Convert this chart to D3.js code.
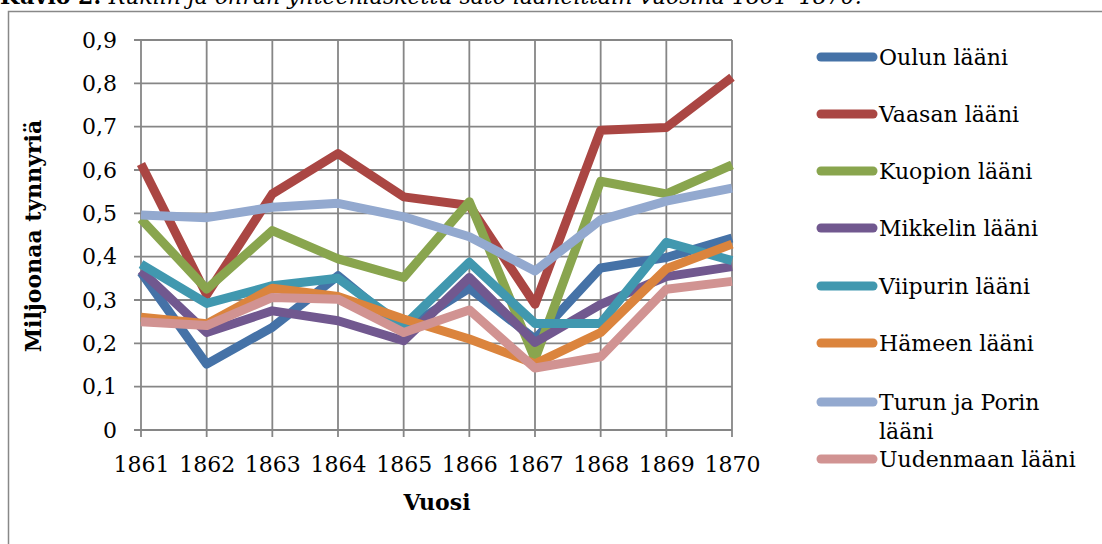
<!DOCTYPE html>
<html><head><meta charset="utf-8">
<script src="https://cdn.jsdelivr.net/npm/d3@7"></script>
<style>
html,body{margin:0;padding:0;background:#fff;}
svg{display:block;}
text{font-family:"DejaVu Serif",serif;fill:#000;}
</style></head>
<body>
<svg id="c" width="1102" height="544"></svg>
<script>
const years = ["1861","1862","1863","1864","1865","1866","1867","1868","1869","1870"];
const seriesNames = ["Oulun lääni","Vaasan lääni","Kuopion lääni","Mikkelin lääni","Viipurin lääni","Hämeen lääni","Turun ja Porin lääni","Uudenmaan lääni"];
const oulun     = [0.364,0.152,0.237,0.356,0.232,0.327,0.210,0.374,0.398,0.443];
const vaasan    = [0.614,0.312,0.545,0.638,0.538,0.518,0.290,0.692,0.698,0.814];
const kuopion   = [0.487,0.325,0.460,0.395,0.352,0.527,0.164,0.574,0.545,0.612];
const mikkelin  = [0.368,0.225,0.275,0.252,0.206,0.352,0.202,0.290,0.354,0.377];
const viipurin  = [0.383,0.292,0.333,0.350,0.240,0.387,0.246,0.246,0.433,0.391];
const hameen    = [0.260,0.245,0.327,0.308,0.256,0.210,0.153,0.225,0.372,0.429];
const turun     = [0.496,0.490,0.514,0.523,0.492,0.446,0.367,0.485,0.528,0.558];
const uudenmaan = [0.250,0.241,0.306,0.302,0.225,0.277,0.143,0.169,0.325,0.343];
const yTicks = [0,0.1,0.2,0.3,0.4,0.5,0.6,0.7,0.8,0.9];
const colors = ["#4572A7","#AA4643","#89A54E","#71588F","#4198AF","#DB843D","#93A9CF","#D19392"];
const seriesValues = [oulun,vaasan,kuopion,mikkelin,viipurin,hameen,turun,uudenmaan];

const svg = d3.select("#c");
const x = d3.scalePoint().domain(years).range([141,732]);
const y = d3.scaleLinear().domain([0,0.9]).range([430,40]);
const fmt = d => d3.format(".1f")(d).replace(".", ",");

// title (cropped at top, as in the reference)
const title = svg.append("text").attr("x",0).attr("y",4).style("font-size","22px");
title.append("tspan").attr("font-weight","bold").text("Kuvio 2. ");
title.append("tspan").attr("font-style","italic").text("Rukiin ja ohran yhteenlaskettu sato lääneittäin vuosina 1861–1870.");

// chart border
svg.append("path").attr("d","M8.5,544 V11.5 H1102").attr("fill","none").attr("stroke","#888").attr("stroke-width",1.5);

// gridlines
const grid = svg.append("g").attr("stroke","#868686").attr("stroke-width",1.8);
grid.selectAll("line.h").data(yTicks).join("line")
  .attr("x1",134).attr("x2",732).attr("y1",d=>y(d)).attr("y2",d=>y(d));
grid.selectAll("line.v").data(years).join("line")
  .attr("x1",d=>x(d)).attr("x2",d=>x(d)).attr("y1",y(0.9)).attr("y2",y(0)+7);

// axes labels
const yAxis = d3.axisLeft(y).tickValues(yTicks).tickFormat(d => d===0 ? "0" : fmt(d)).tickSize(0).tickPadding(0);
const ga = svg.append("g").attr("transform","translate(117,0)").call(yAxis);
ga.select(".domain").remove();
ga.selectAll("text").style("font-size","22px").style("font-family","'DejaVu Serif',serif").attr("fill","#000");

const xAxis = d3.axisBottom(x).tickSize(0).tickPadding(0);
const gx = svg.append("g").attr("transform","translate(0,456)").call(xAxis);
gx.select(".domain").remove();
gx.selectAll("text").style("font-size","22px").style("font-family","'DejaVu Serif',serif").attr("fill","#000");

svg.append("text").attr("x",437).attr("y",510).attr("text-anchor","middle")
  .style("font-size","22px").attr("font-weight","bold").text("Vuosi");
svg.append("text").attr("transform","translate(41,236) rotate(-90)").attr("text-anchor","middle")
  .style("font-size","22px").attr("font-weight","bold").text("Miljoonaa tynnyriä");

// lines
const line = d3.line().x((d,i)=>x(years[i])).y(d=>y(d));
svg.append("g").selectAll("path").data(seriesValues).join("path")
  .attr("d",d=>line(d)).attr("fill","none").attr("stroke",(d,i)=>colors[i])
  .attr("stroke-width",9).attr("stroke-linejoin","round").attr("stroke-linecap","butt");

// legend
const legY = [57,114,171,228,286,343,402,459];
const lg = svg.append("g");
seriesNames.forEach((name,i)=>{
  lg.append("line").attr("x1",821).attr("x2",873).attr("y1",legY[i]).attr("y2",legY[i])
    .attr("stroke",colors[i]).attr("stroke-width",9).attr("stroke-linecap","round");
  const t = lg.append("text").attr("x",879).attr("y",legY[i]+8).style("font-size","22px");
  if (name === "Turun ja Porin lääni") {
    t.append("tspan").attr("x",879).text("Turun ja Porin");
    t.append("tspan").attr("x",879).attr("dy",29).text("lääni");
  } else t.text(name);
});
</script>
</body></html>
